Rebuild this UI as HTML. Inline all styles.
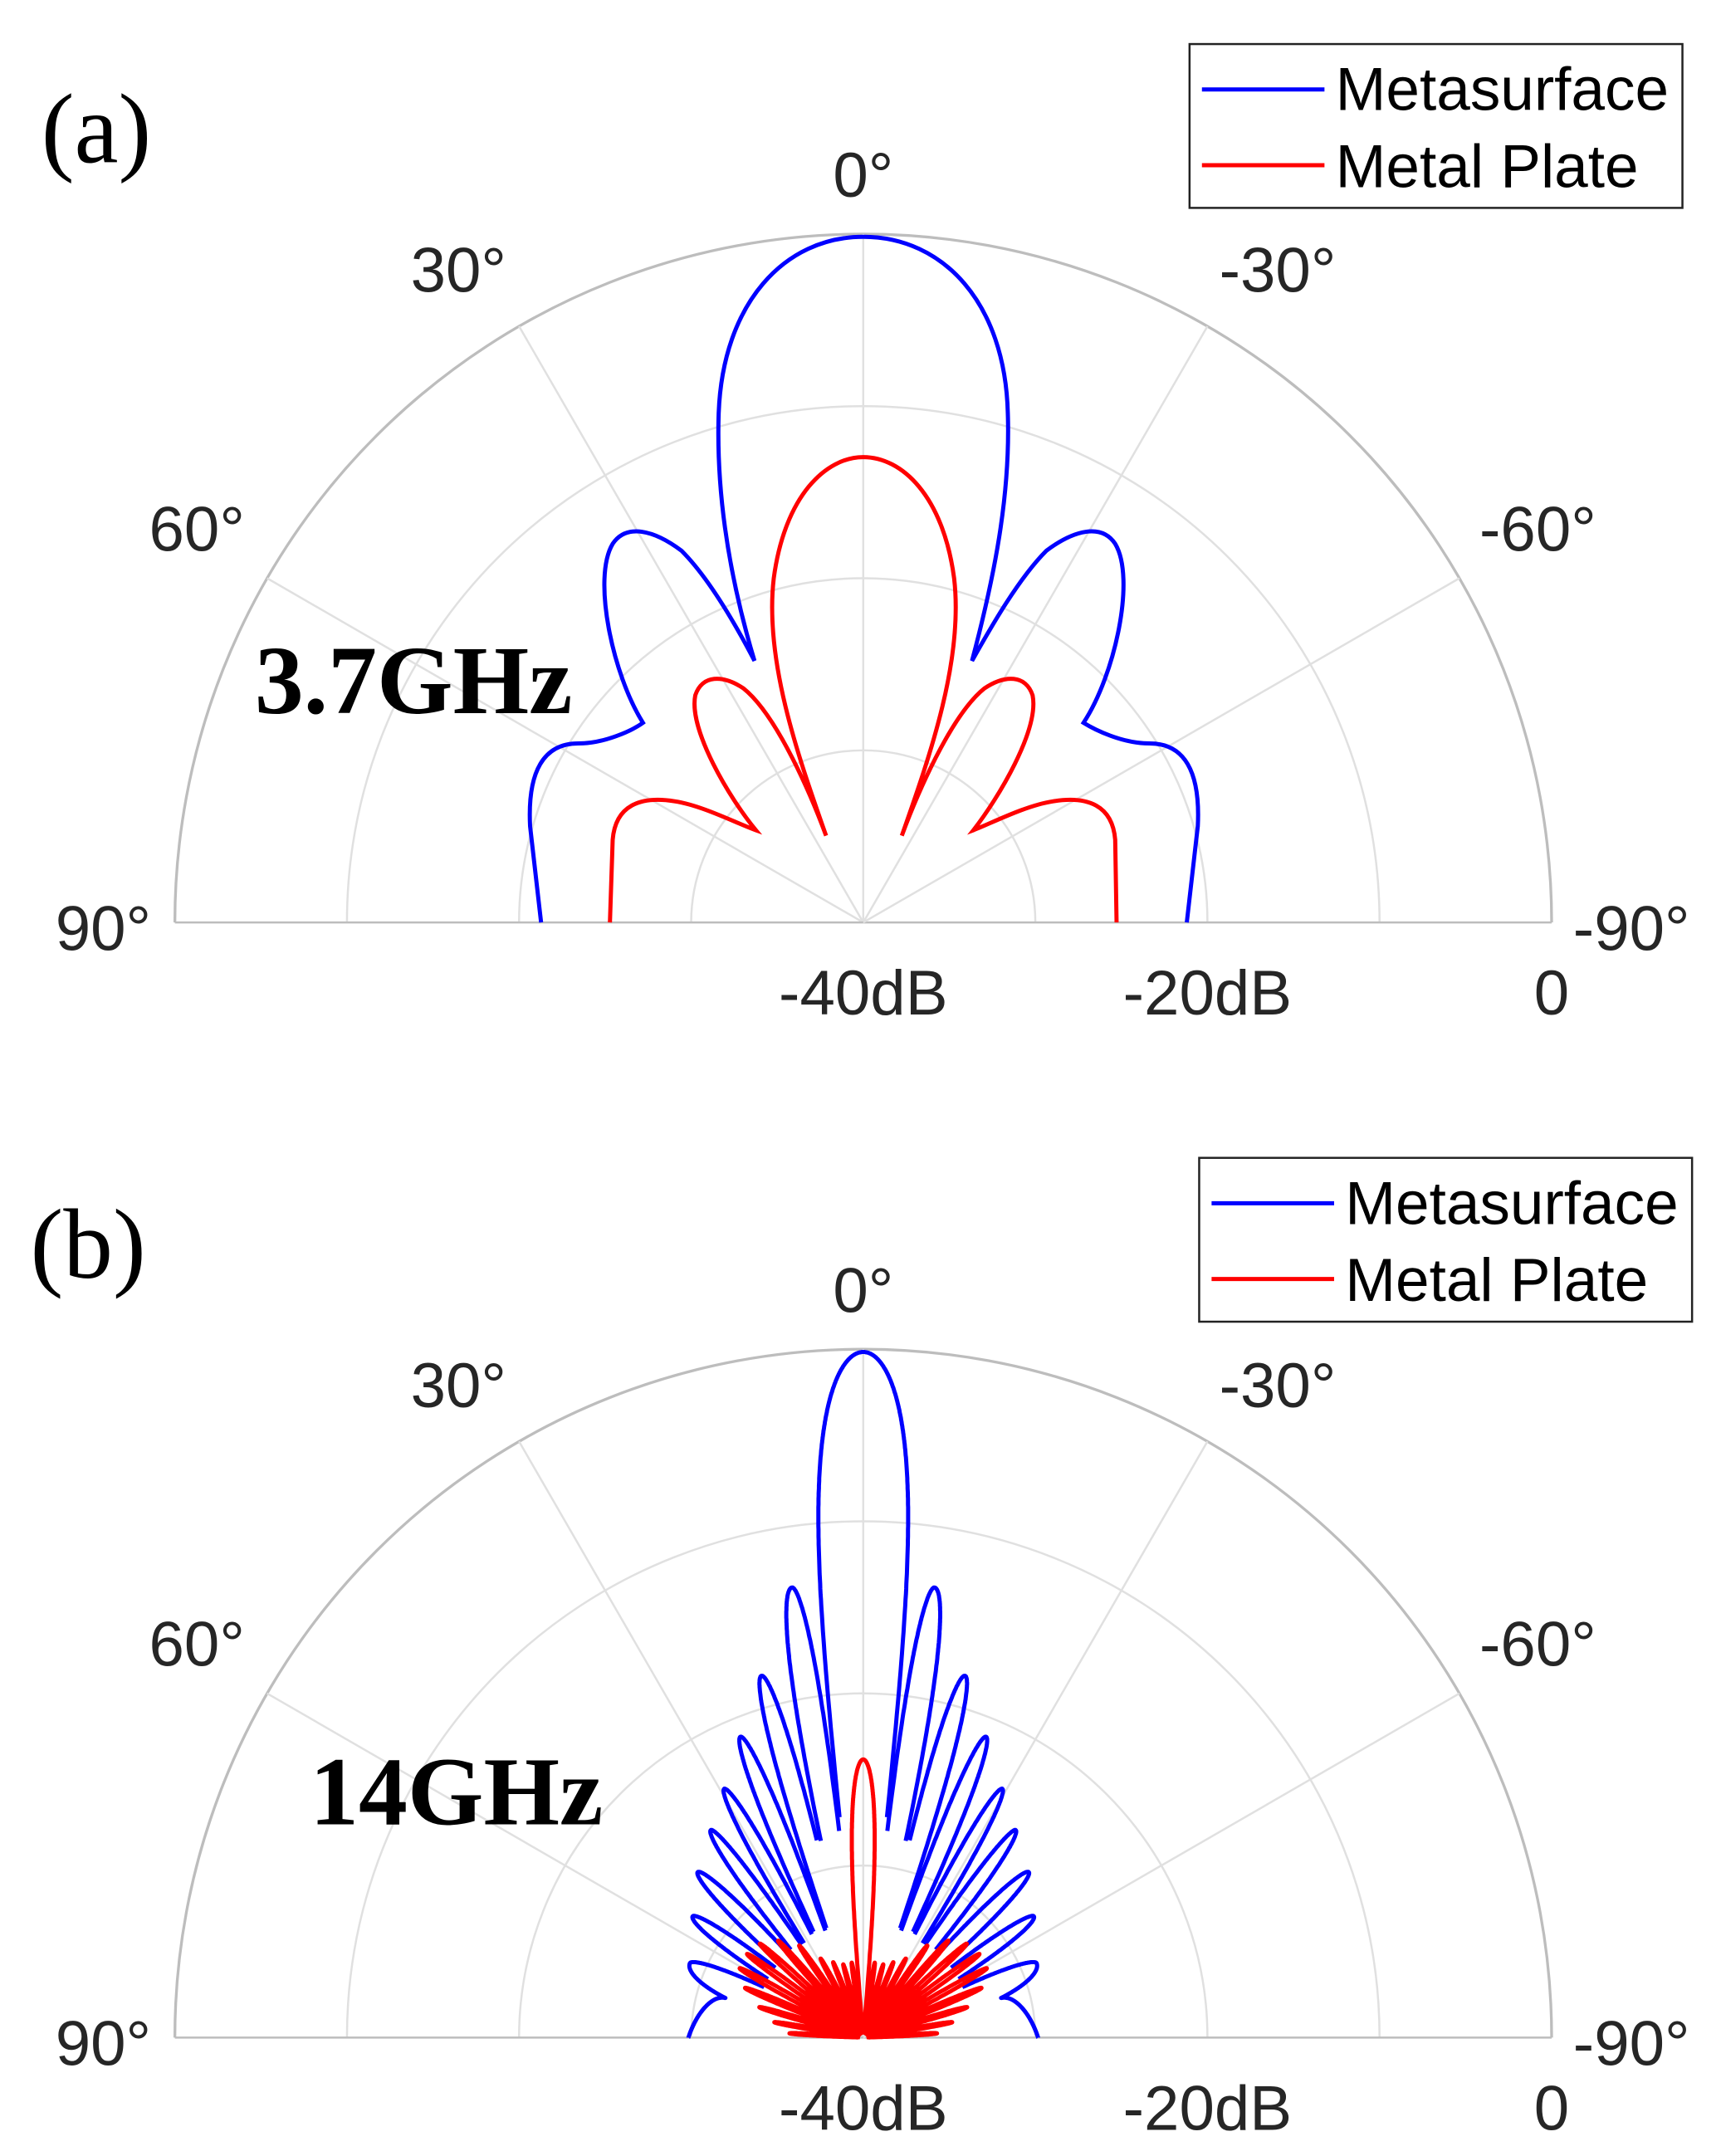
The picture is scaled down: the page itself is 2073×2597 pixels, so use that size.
<!DOCTYPE html>
<html><head><meta charset="utf-8"><style>
html,body{margin:0;padding:0;background:#fff}
svg{display:block}
</style></head><body>
<svg id="s" width="2073" height="2597" viewBox="0 0 1250 1566" xmlns="http://www.w3.org/2000/svg">
<g id="ga"></g>
<g id="gb"></g>
<g font-family="Liberation Sans, sans-serif" font-size="46" fill="#262626">
<text x="627" y="143" text-anchor="middle">0°</text>
<text x="333" y="212" text-anchor="middle">30°</text>
<text x="928" y="212" text-anchor="middle">-30°</text>
<text x="143" y="400" text-anchor="middle">60°</text>
<text x="1117" y="400" text-anchor="middle">-60°</text>
<text x="75" y="690" text-anchor="middle">90°</text>
<text x="1185" y="690" text-anchor="middle">-90°</text>
<text x="627" y="737" text-anchor="middle">-40dB</text>
<text x="877" y="737" text-anchor="middle">-20dB</text>
<text x="1127" y="737" text-anchor="middle">0</text>
<text x="627" y="953" text-anchor="middle">0°</text>
<text x="333" y="1022" text-anchor="middle">30°</text>
<text x="928" y="1022" text-anchor="middle">-30°</text>
<text x="143" y="1210" text-anchor="middle">60°</text>
<text x="1117" y="1210" text-anchor="middle">-60°</text>
<text x="75" y="1500" text-anchor="middle">90°</text>
<text x="1185" y="1500" text-anchor="middle">-90°</text>
<text x="627" y="1547" text-anchor="middle">-40dB</text>
<text x="877" y="1547" text-anchor="middle">-20dB</text>
<text x="1127" y="1547" text-anchor="middle">0</text>
</g>
<g font-family="Liberation Serif, serif" fill="#000">
<text x="30" y="118" font-size="72">(a)</text>
<text x="22" y="928" font-size="72">(b)</text>
<text x="185" y="518" font-size="71" font-weight="bold">3.7GHz</text>
<text x="225" y="1325" font-size="71" font-weight="bold">14GHz</text>
</g>
<path fill="none" stroke="#ff0000" stroke-width="3" d="M443,670 L445,610 C447,585 465,578 490,582 C510,585 535,598 549,603 C530,580 500,530 505,505 C510,490 525,490 540,500 C565,520 590,580 600,607 C580,550 555,480 562,420 C570,360 600,332 627,332 C655,332 685,360 693,420 C700,480 675,550 655,607 C665,580 690,520 715,500 C730,490 745,490 750,505 C755,530 725,580 707,603 C720,598 745,585 765,582 C790,578 808,585 810,610 L811,670"/>
<path fill="none" stroke="#0000ff" stroke-width="3" d="M393,670 L385,600 C383,560 395,540 420,540 C440,540 460,530 467,525 C445,490 430,420 445,395 C455,380 475,385 495,400 C515,420 535,455 548,480 C530,420 520,360 522,300 C525,220 570,172 627,172 C685,172 730,220 732,300 C734,360 722,420 706,480 C720,455 740,420 760,400 C780,385 800,380 810,395 C825,420 810,490 787,525 C795,530 815,540 835,540 C860,540 872,560 870,600 L862,670"/>
<g id="gc"></g>
<g font-family="Liberation Sans, sans-serif" font-size="44" fill="#000">
<rect x="864" y="32" width="358" height="119" fill="#fff" stroke="#222" stroke-width="1.5"/>
<line x1="873" y1="65" x2="962" y2="65" stroke="#0000ff" stroke-width="3"/>
<line x1="873" y1="120" x2="962" y2="120" stroke="#ff0000" stroke-width="3"/>
<text x="970" y="80">Metasurface</text>
<text x="970" y="136">Metal Plate</text>
<rect x="871" y="841" width="358" height="119" fill="#fff" stroke="#222" stroke-width="1.5"/>
<line x1="880" y1="874" x2="969" y2="874" stroke="#0000ff" stroke-width="3"/>
<line x1="880" y1="929" x2="969" y2="929" stroke="#ff0000" stroke-width="3"/>
<text x="977" y="889">Metasurface</text>
<text x="977" y="945">Metal Plate</text>
</g>
</svg>
<script>
var NS="http://www.w3.org/2000/svg";
function el(p,t,a){var e=document.createElementNS(NS,t);for(var k in a)e.setAttribute(k,a[k]);p.appendChild(e);return e;}
function grid(g,cx,cy){
  for(var i=1;i<=4;i++){var r=125*i;
    el(g,"path",{d:"M"+(cx-r)+","+cy+" A"+r+","+r+" 0 0 1 "+(cx+r)+","+cy,fill:"none",stroke:i==4?"#bdbdbd":"#e0e0e0","stroke-width":i==4?2:1.5});}
  for(var a=-90;a<=90;a+=30){var t=a*Math.PI/180;
    el(g,"line",{x1:cx,y1:cy,x2:cx-500*Math.sin(t),y2:cy-500*Math.cos(t),stroke:(Math.abs(a)==90)?"#bdbdbd":"#e0e0e0","stroke-width":1.5});}
}
grid(document.getElementById("ga"),627,670);
grid(document.getElementById("gb"),627,1480);
function interp(pts,x){for(var i=1;i<pts.length;i++){if(x<=pts[i][0]){var f=(x-pts[i-1][0])/(pts[i][0]-pts[i-1][0]);return pts[i-1][1]+f*(pts[i][1]-pts[i-1][1]);}}return pts[pts.length-1][1];}
function L(x){return 12.5*20*Math.log10(Math.max(x,1e-9));}
var lobes=[[0,498,-6.3,6.3],[9,331,6.3,12.6],[15.7,273,12.6,19],[22.2,236,19,25.7],[29.2,207,25.7,32.8],[36.3,187,32.8,40.5],[45,170,40.5,49.8],[54.6,152,49.8,60.5],[66.8,137,60.5,74]];
function blue(a){
  if(a>=74)return {r:104+(127-104)*Math.sqrt((a-74)/16),fl:0};
  for(var i=0;i<lobes.length;i++){var o=lobes[i];
    if(a>=o[2]&&a<=o[3]){var f=a<o[0]?(o[0]-a)/(o[0]-o[2]):(a-o[0])/(o[3]-o[0]);
      if(i==8&&a>o[0])return {r:o[1]-(o[1]-104)*f*f,fl:0};
      return {r:o[1]+L(Math.cos(Math.PI*f/2)),fl:a<14?145:80};}}
  return {r:0,fl:1};
}
var renv=[[0,55],[5.5,55],[15,55],[27,62],[35,82],[42,95],[50,104],[60,104],[68,92],[74,78],[82,62],[90,48]];
function red(a){
  if(a<5.5)return {r:202+L(Math.cos(Math.PI*a/11)),fl:2};
  return {r:interp(renv,a)+1.3*L(Math.abs(Math.sin(Math.PI*(a-5.5)/6.5))),fl:2};
}
function draw(fn,col){
  var d="",up=true,cx=627,cy=1480;
  for(var a=-90;a<=90.001;a+=0.03){var t=a*Math.PI/180;var v=fn(Math.abs(a));
    if(v.r<v.fl){up=true;continue;}
    var x=cx-v.r*Math.sin(t),y=cy-v.r*Math.cos(t);
    d+=(up?"M":"L")+x.toFixed(1)+","+y.toFixed(1);up=false;}
  el(document.getElementById("gc"),"path",{d:d,fill:"none",stroke:col,"stroke-width":3,"stroke-linejoin":"round"});
}
draw(blue,"#0000ff");
draw(red,"#ff0000");
</script>
</body></html>
